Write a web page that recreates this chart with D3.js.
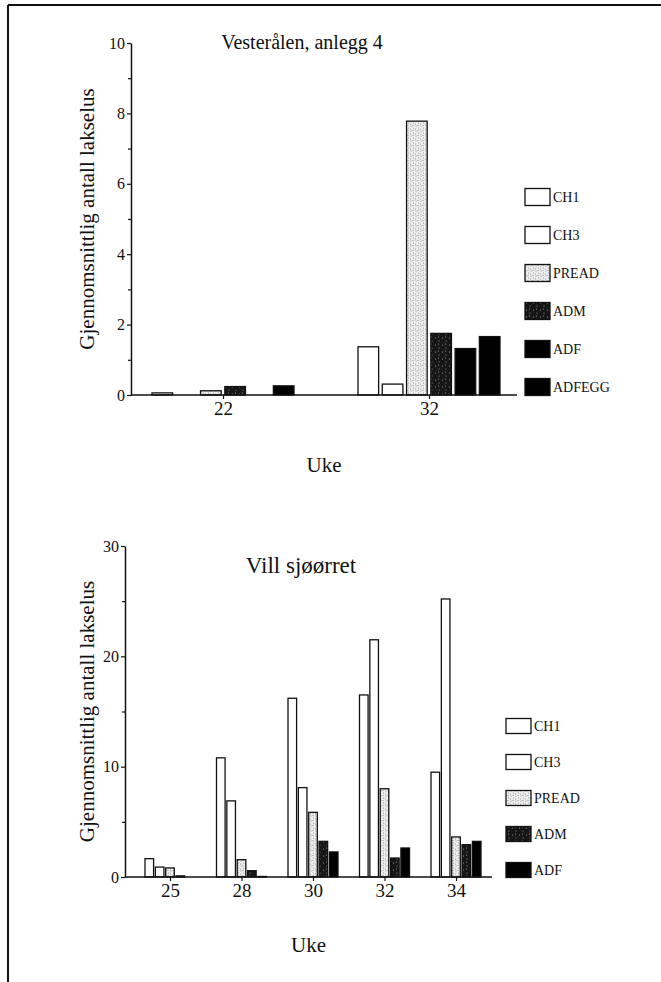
<!DOCTYPE html>
<html>
<head>
<meta charset="utf-8">
<script src="https://cdn.jsdelivr.net/npm/d3@7"></script>
<style>
  html, body { margin: 0; padding: 0; background: #fff; }
  svg { display: block; }
  text { font-family: "Liberation Serif", "Times New Roman", serif; fill: #111; }
</style>
</head>
<body>
<svg id="chart" width="661" height="982"></svg>
<script>
// Mean number of salmon lice per stage, by week
const topWeeks = ["22", "32"];
const topSeries = ["CH1", "CH3", "PREAD", "ADM", "ADF", "ADFEGG"];
const topCH1 = [0.06, 1.37];
const topCH3 = [0.0, 0.31];
const topPREAD = [0.12, 7.78];
const topADM = [0.24, 1.75];
const topADF = [0.0, 1.32];
const topADFEGG = [0.26, 1.66];
const topYTicks = [0, 2, 4, 6, 8, 10];
const topYMinor = [1, 3, 5, 7, 9];

const bottomWeeks = ["25", "28", "30", "32", "34"];
const bottomSeries = ["CH1", "CH3", "PREAD", "ADM", "ADF"];
const bottomCH1 = [1.66, 10.8, 16.2, 16.5, 9.5];
const bottomCH3 = [0.9, 6.9, 8.1, 21.5, 25.2];
const bottomPREAD = [0.82, 1.57, 5.86, 8.0, 3.63];
const bottomADM = [0.1, 0.57, 3.23, 1.72, 2.93];
const bottomADF = [0.0, 0.05, 2.27, 2.63, 3.23];
const bottomYTicks = [0, 10, 20, 30];
const bottomYMinor = [5, 15, 25];

const yTitle = "Gjennomsnittlig antall lakselus";
const xTitle = "Uke";
const SERIF = "'Liberation Serif', 'Times New Roman', serif";

const svg = d3.select("#chart");

// Stippled textures for the stage fills
const defs = svg.append("defs");
const pread = defs.append("pattern").attr("id", "pread")
  .attr("patternUnits", "userSpaceOnUse").attr("width", 5).attr("height", 5);
pread.append("rect").attr("width", 5).attr("height", 5).attr("fill", "#eeeeee");
[[1, 1], [3.5, 3], [0.5, 4], [3, 0.5]].forEach(([cx, cy]) =>
  pread.append("circle").attr("cx", cx).attr("cy", cy).attr("r", 0.55).attr("fill", "#8a8a8a"));

const adm = defs.append("pattern").attr("id", "adm")
  .attr("patternUnits", "userSpaceOnUse").attr("width", 7).attr("height", 7);
adm.append("rect").attr("width", 7).attr("height", 7).attr("fill", "#161616");
[[1.5, 2], [5, 5], [4.5, 1]].forEach(([cx, cy]) =>
  adm.append("circle").attr("cx", cx).attr("cy", cy).attr("r", 0.6).attr("fill", "#9a9a9a"));

const fills = {
  CH1: "#ffffff", CH3: "#ffffff", PREAD: "url(#pread)",
  ADM: "url(#adm)", ADF: "#000000", ADFEGG: "#000000"
};

// Page frame
svg.append("line").attr("x1", 8).attr("x2", 661).attr("y1", 5).attr("y2", 5)
  .attr("stroke", "#111").attr("stroke-width", 2);
svg.append("line").attr("x1", 8).attr("x2", 8).attr("y1", 5).attr("y2", 982)
  .attr("stroke", "#111").attr("stroke-width", 2);

function drawPanel(p) {
  const g = svg.append("g");
  const y = d3.scaleLinear().domain([0, p.yMax]).range([p.y0, p.y1]);
  const x = d3.scalePoint().domain(p.weeks).range(p.groupRange);
  const inner = d3.scaleBand().domain(p.series)
    .range([-p.groupHalf, p.groupHalf]).paddingInner(p.barPad);

  // bars
  p.series.forEach((s, si) => {
    g.append("g").selectAll("rect")
      .data(p.values[si].map((v, i) => ({ week: p.weeks[i], v })))
      .join("rect")
      .filter(d => d.v > 0)
      .attr("x", d => x(d.week) + inner(s))
      .attr("width", inner.bandwidth())
      .attr("y", d => y(d.v))
      .attr("height", d => y(0) - y(d.v))
      .attr("fill", fills[s])
      .attr("stroke", "#111")
      .attr("stroke-width", 1.3);
  });

  // y axis
  const yAx = g.append("g").attr("transform", `translate(${p.axisX},0)`)
    .call(d3.axisLeft(y).tickValues(p.yTicks).tickSize(4).tickSizeOuter(0).tickPadding(2))
    .attr("font-family", SERIF).attr("font-size", p.yTickSize);
  yAx.select(".domain").attr("stroke", "#111").attr("stroke-width", 1.5);
  yAx.selectAll(".tick line").attr("stroke", "#111").attr("stroke-width", 1.2);
  yAx.selectAll("text").attr("fill", "#111");
  const yMin = g.append("g").attr("transform", `translate(${p.axisX},0)`)
    .call(d3.axisLeft(y).tickValues(p.yMinor).tickSize(3).tickFormat(""));
  yMin.select(".domain").remove();
  yMin.selectAll(".tick line").attr("stroke", "#111").attr("stroke-width", 1.2);

  // x axis
  g.append("line").attr("x1", p.axisX).attr("x2", p.axisEnd)
    .attr("y1", y(0)).attr("y2", y(0)).attr("stroke", "#111").attr("stroke-width", 1.5);
  const xAx = g.append("g").attr("transform", `translate(0,${y(0)})`)
    .call(d3.axisBottom(x).tickSize(4).tickSizeOuter(0).tickPadding(3))
    .attr("font-family", SERIF).attr("font-size", p.xTickSize);
  xAx.select(".domain").remove();
  xAx.selectAll(".tick line").attr("stroke", "#111").attr("stroke-width", 1.2);
  xAx.selectAll("text").attr("fill", "#111");

  // titles
  g.append("text").attr("x", p.titleX).attr("y", p.titleY).attr("text-anchor", "middle")
    .style("font-size", p.titleSize + "px").text(p.title);
  g.append("text").attr("transform", `translate(${p.yTitleX},${(p.y0 + p.y1) / 2}) rotate(-90)`)
    .attr("text-anchor", "middle").attr("dy", "0.35em")
    .style("font-size", "21px").text(yTitle);
  g.append("text").attr("x", (p.axisX + p.axisEnd) / 2).attr("y", p.xTitleY)
    .attr("text-anchor", "middle").style("font-size", "21px").text(xTitle);

  // legend
  const lg = g.append("g");
  p.series.forEach((s, i) => {
    const cy = p.legendY + i * p.legendStep;
    lg.append("rect").attr("x", p.legendX).attr("y", cy - p.legendH / 2)
      .attr("width", 25).attr("height", p.legendH)
      .attr("fill", fills[s]).attr("stroke", "#111").attr("stroke-width", 1.3);
    lg.append("text").attr("x", p.legendX + 28).attr("y", cy).attr("dy", "0.35em")
      .style("font-size", p.legendSize + "px").text(s);
  });
}

drawPanel({
  weeks: topWeeks, series: topSeries,
  values: [topCH1, topCH3, topPREAD, topADM, topADF, topADFEGG],
  yMax: 10, y0: 395, y1: 43, yTicks: topYTicks, yMinor: topYMinor,
  axisX: 131, axisEnd: 517, groupRange: [223, 429], groupHalf: 71, barPad: 0.15,
  yTickSize: 16, xTickSize: 19,
  title: "Vesterålen, anlegg 4", titleX: 302, titleY: 49, titleSize: 20,
  yTitleX: 87, xTitleY: 472,
  legendX: 525, legendY: 197, legendStep: 38, legendH: 17, legendSize: 14
});

drawPanel({
  weeks: bottomWeeks, series: bottomSeries,
  values: [bottomCH1, bottomCH3, bottomPREAD, bottomADM, bottomADF],
  yMax: 30, y0: 877, y1: 546, yTicks: bottomYTicks, yMinor: bottomYMinor,
  axisX: 125, axisEnd: 492, groupRange: [170, 456], groupHalf: 25, barPad: 0.17,
  yTickSize: 16, xTickSize: 19,
  title: "Vill sjøørret", titleX: 301, titleY: 573, titleSize: 23,
  yTitleX: 87, xTitleY: 952,
  legendX: 506, legendY: 726, legendStep: 36, legendH: 15, legendSize: 14
});
</script>
</body>
</html>
